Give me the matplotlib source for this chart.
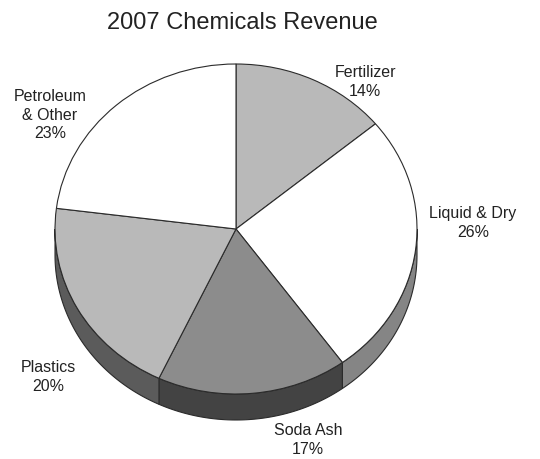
import matplotlib
matplotlib.use("Agg")
import matplotlib.pyplot as plt
import numpy as np

plt.rcParams['font.family'] = ['Liberation Sans', 'DejaVu Sans']

categories = ["Fertilizer", "Liquid & Dry", "Soda Ash", "Plastics", "Petroleum\n& Other"]
shares = [14, 26, 17, 20, 23]

top_colors = ["#b9b9b9", "#ffffff", "#8c8c8c", "#b9b9b9", "#ffffff"]
side_colors = ["#5b5b5b", "#858585", "#434343", "#5b5b5b", "#858585"]
edge = "#2b2b2b"

# pixel geometry of the ellipse in the 540x460 canvas
W, H = 540, 460
cx, cy, rx, ry = 236, 230, 181, 165
depth = 26 / ry

fig = plt.figure(figsize=(W / 100, H / 100), dpi=100)
ax = fig.add_axes([0, 0, 1, 1])

wedges, _ = ax.pie(shares, colors=top_colors, startangle=90, counterclock=False,
                   wedgeprops=dict(edgecolor=edge, linewidth=0.8), frame=False)
for w in wedges:
    w.set_zorder(3)

# side walls for the front (lower) half of the disc
for w, sc in zip(wedges, side_colors):
    t1, t2 = max(w.theta1, -180), min(w.theta2, 0)
    if t2 <= t1:
        continue
    t = np.radians(np.linspace(t1, t2, 80))
    xs = np.concatenate([np.cos(t), np.cos(t[::-1])])
    ys = np.concatenate([np.sin(t), np.sin(t[::-1]) - depth])
    ax.fill(xs, ys, facecolor=sc, edgecolor=edge, linewidth=0.8, zorder=2)

ax.set_aspect('auto')
ax.set_xlim(-cx / rx, (W - cx) / rx)
ax.set_ylim(-(H - cy) / ry, cy / ry)
ax.axis('off')

# label positions in pixels
label_px = [(365, 82), (473, 223), (308, 440), (48, 377), (50, 115)]
for name, v, (px, py) in zip(categories, shares, label_px):
    ax.text((px - cx) / rx, (cy - py) / ry, f"{name}\n{v}%", ha='center', va='center',
            fontsize=11.5, color='#222222', linespacing=1.3, zorder=5)

fig.text(242 / W, 1 - 23 / H, "2007 Chemicals Revenue", ha='center', va='center',
         fontsize=17, color='#222222')

fig.savefig("out.png", dpi=100, facecolor='white')
